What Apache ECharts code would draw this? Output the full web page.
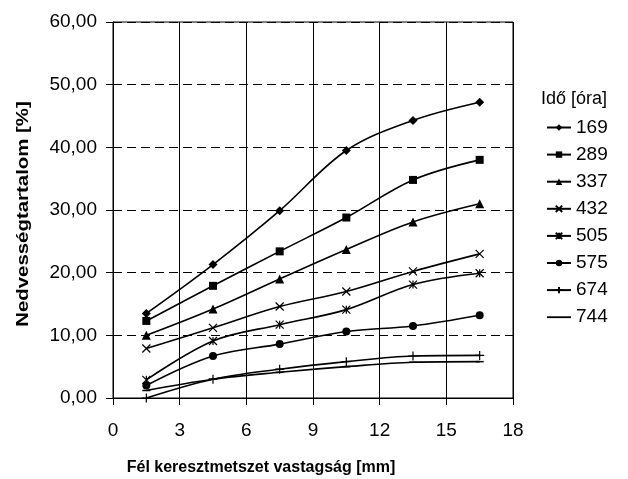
<!DOCTYPE html>
<html>
<head>
<meta charset="utf-8">
<script src="https://cdn.jsdelivr.net/npm/echarts@6/dist/echarts.min.js"></script>
<style>html,body{margin:0;padding:0;background:#fff}#c{width:628px;height:479px}</style>
</head>
<body>
<div id="c"></div>
<script>
var xValues = [1.5, 4.5, 7.5, 10.5, 13.5, 16.5];
var seriesNames = ['169', '289', '337', '432', '505', '575', '674', '744'];
var s169 = [13.5, 21.3, 29.9, 39.5, 44.3, 47.2];
var s289 = [12.3, 17.9, 23.4, 28.8, 34.8, 38.0];
var s337 = [10.0, 14.2, 19.0, 23.7, 28.1, 31.0];
var s432 = [7.9, 11.2, 14.6, 17.0, 20.2, 23.0];
var s505 = [2.9, 9.1, 11.7, 14.1, 18.1, 19.9];
var s575 = [2.0, 6.7, 8.6, 10.6, 11.5, 13.2];
var s674 = [0.0, 3.0, 4.6, 5.8, 6.7, 6.8];
var s744 = [1.2, 3.0, 4.1, 5.0, 5.7, 5.8];
var yTickLabels = ['0,00', '10,00', '20,00', '30,00', '40,00', '50,00', '60,00'];
var xTickLabels = ['0', '3', '6', '9', '12', '15', '18'];

var allValues = [s169, s289, s337, s432, s505, s575, s674, s744];
var symbols = [
  {symbol: 'diamond', size: 9, stroke: false},
  {symbol: 'rect', size: 8, stroke: false},
  {symbol: 'triangle', size: 9, stroke: false},
  {symbol: 'path://M0,0L10,10M10,0L0,10', size: 8, stroke: true},
  {symbol: 'path://M0,0L10,10M10,0L0,10M5,0L5,10', size: 8, stroke: true},
  {symbol: 'circle', size: 8, stroke: false},
  {symbol: 'path://M0,5L10,5M5,0L5,10', size: 9, stroke: true},
  {symbol: 'rect', size: [8, 1.5], stroke: false}
];
var FONT = 'Liberation Sans, Arial, sans-serif';

var series = seriesNames.map(function (name, i) {
  var sym = symbols[i];
  return {
    name: name,
    type: 'line',
    smooth: 0.35,
    data: xValues.map(function (x, j) { return [x, allValues[i][j]]; }),
    symbol: sym.symbol,
    symbolSize: sym.size,
    showSymbol: true,
    lineStyle: {color: '#000', width: 1.6},
    itemStyle: sym.stroke ? {color: '#000', borderColor: '#000', borderWidth: 1.2} : {color: '#000', borderColor: '#000', borderWidth: 0},
    emphasis: {disabled: true},
    z: 3
  };
});

var legendData = seriesNames.map(function (name, i) {
  if (i === seriesNames.length - 1) {
    return {name: name, icon: 'path://M0,4.1L24,4.1L24,5.9L0,5.9Z'};
  }
  return {name: name};
});

var chart = echarts.init(document.getElementById('c'), null, {renderer: 'canvas'});
chart.setOption({
  animation: false,
  backgroundColor: '#fff',
  grid: {left: 113, right: 115, top: 22, bottom: 81, show: true, borderColor: '#000', borderWidth: 1, backgroundColor: 'transparent'},
  title: {text: 'Idő [óra]', left: 536, top: 85, textStyle: {fontFamily: FONT, fontSize: 18, fontWeight: 'normal', color: '#000'}},
  legend: {
    orient: 'vertical', left: 541, top: 113, itemWidth: 24, itemHeight: 8, itemGap: 8.1,
    symbolKeepAspect: true,
    textStyle: {fontFamily: FONT, fontSize: 19, color: '#000'},
    data: legendData
  },
  xAxis: {
    type: 'value', min: 0, max: 18, interval: 3,
    axisLine: {lineStyle: {color: '#000', width: 1}},
    axisTick: {show: true, inside: false, length: 7, lineStyle: {color: '#000'}},
    axisLabel: {margin: 23, fontFamily: FONT, fontSize: 19, color: '#000', formatter: function (v) { return xTickLabels[Math.round(v / 3)]; }},
    splitLine: {show: true, lineStyle: {color: '#000', width: 1, type: 'solid'}}
  },
  yAxis: {
    type: 'value', min: 0, max: 60, interval: 10,
    axisLine: {show: true, lineStyle: {color: '#000', width: 1}},
    axisTick: {show: true, inside: false, length: 7, lineStyle: {color: '#000'}},
    axisLabel: {margin: 16, fontFamily: FONT, fontSize: 19, color: '#000', formatter: function (v) { return yTickLabels[Math.round(v / 10)]; }},
    splitLine: {show: true, lineStyle: {color: '#000', width: 1, type: [9, 5]}}
  },
  graphic: [
    {type: 'text', x: 261, y: 468, style: {text: 'Fél keresztmetszet vastagság [mm]', align: 'center', verticalAlign: 'middle', font: 'bold 16px ' + FONT, fill: '#000'}},
    {type: 'text', rotation: Math.PI / 2, scaleX: 1.2, x: 23, y: 214, style: {text: 'Nedvességtartalom [%]', align: 'center', verticalAlign: 'middle', font: 'bold 17px ' + FONT, fill: '#000'}}
  ],
  series: series
});
</script>
</body>
</html>
